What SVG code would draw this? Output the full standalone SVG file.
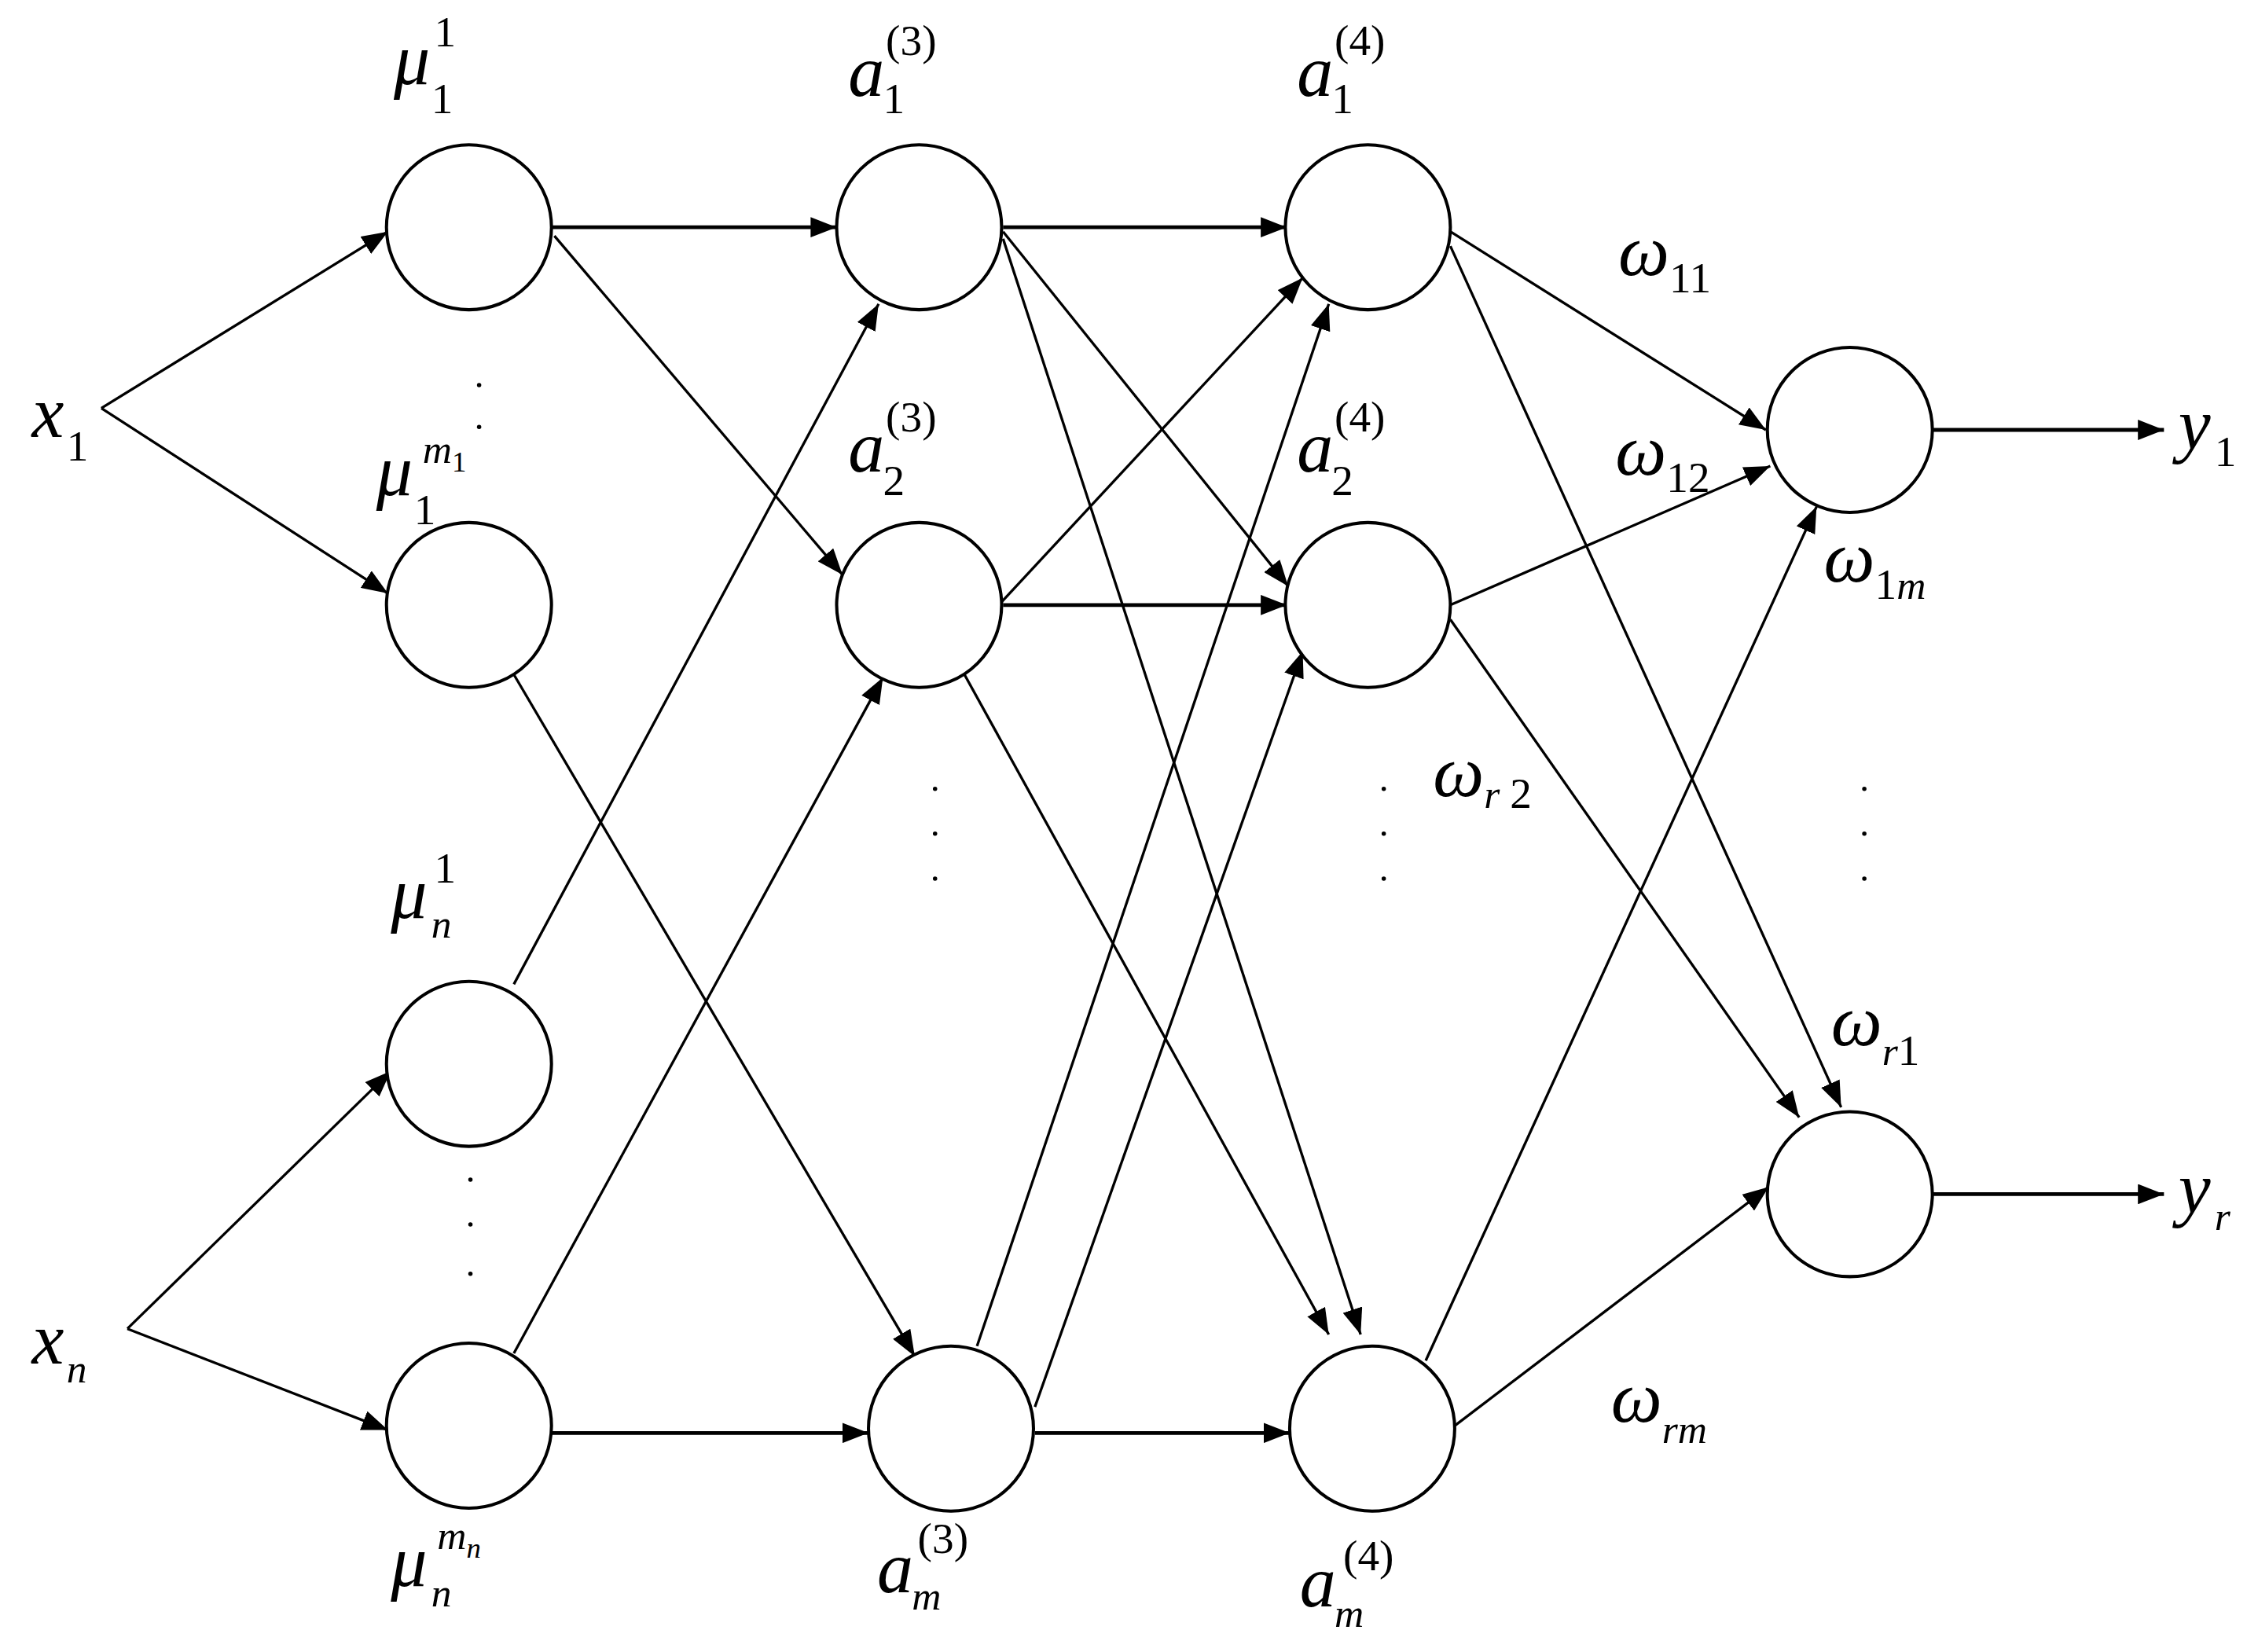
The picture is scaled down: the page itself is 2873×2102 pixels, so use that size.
<svg xmlns="http://www.w3.org/2000/svg" width="2873" height="2102" viewBox="0 0 2873 2102">
<style>
.n{fill:#fff;stroke:#000;stroke-width:2.2}
.e line{stroke:#000;stroke-width:1.8;marker-end:url(#ah)}
.e line.t{stroke-width:2.6}
.b{font-family:"Liberation Serif",serif;font-style:italic;font-size:50px}
.s{font-family:"Liberation Serif",serif;font-size:30px}
.si{font-family:"Liberation Serif",serif;font-style:italic;font-size:28px}
.up{font-style:normal}
.d{fill:#000}
</style>
<defs>
<marker id="ah" markerUnits="userSpaceOnUse" markerWidth="20" markerHeight="14" refX="18" refY="7" orient="auto"><path d="M0,0 L18,7 L0,14 z" fill="#000"/></marker>
</defs>
<rect width="2873" height="2102" fill="#fff"/>
<g transform="scale(1.8417)">
<g id="connectors" class="e">
<line x1="70" y1="282" x2="268" y2="160"/>
<line x1="70" y1="282" x2="268" y2="410"/>
<line x1="88" y1="918" x2="270" y2="740"/>
<line x1="88" y1="918" x2="268" y2="988"/>
<line class="t" x1="381" y1="157" x2="578" y2="157"/>
<line x1="383" y1="163" x2="582" y2="397"/>
<line x1="355" y1="466" x2="632" y2="937"/>
<line x1="355" y1="680" x2="607" y2="210"/>
<line x1="355" y1="935" x2="610" y2="468"/>
<line class="t" x1="381" y1="990" x2="600" y2="990"/>
<line class="t" x1="693" y1="157" x2="889" y2="157"/>
<line x1="693" y1="160" x2="890" y2="405"/>
<line x1="693" y1="165" x2="940" y2="922"/>
<line x1="690" y1="418" x2="900" y2="192"/>
<line class="t" x1="693" y1="418" x2="889" y2="418"/>
<line x1="663" y1="460" x2="918" y2="922"/>
<line x1="675" y1="930" x2="918" y2="210"/>
<line x1="715" y1="972" x2="900" y2="450"/>
<line class="t" x1="715" y1="990" x2="891" y2="990"/>
<line x1="1002" y1="160" x2="1220" y2="297"/>
<line x1="1002" y1="170" x2="1272" y2="765"/>
<line x1="1002" y1="418" x2="1223" y2="322"/>
<line x1="1002" y1="428" x2="1243" y2="772"/>
<line x1="985" y1="940" x2="1255" y2="350"/>
<line x1="1005" y1="985" x2="1222" y2="820"/>
<line class="t" x1="1335" y1="297" x2="1495" y2="297"/>
<line class="t" x1="1335" y1="825" x2="1495" y2="825"/>
</g>
<g id="x1"><text class="b" x="22" y="302">x</text><text class="s" x="46" y="318">1</text></g>
<g id="xn"><text class="b" x="22" y="942">x</text><text class="si" x="46" y="955">n</text></g>
<g id="mu11"><circle class="n" cx="324" cy="157" r="57"/><text class="b" x="272" y="58">μ</text><text class="s" x="298" y="78">1</text><text class="s" x="300" y="32">1</text></g>
<g id="mu1m"><circle class="n" cx="324" cy="418" r="57"/><text class="b" x="260" y="342">μ</text><text class="s" x="286" y="362">1</text><text class="si" x="292" y="320">m<tspan class="up" font-size="20" dy="6">1</tspan></text></g>
<g id="mun1"><circle class="n" cx="324" cy="735" r="57"/><text class="b" x="270" y="634">μ</text><text class="si" x="298" y="648">n</text><text class="s" x="300" y="610">1</text></g>
<g id="munm"><circle class="n" cx="324" cy="985" r="57"/><text class="b" x="270" y="1096">μ</text><text class="si" x="298" y="1110">n</text><text class="si" x="302" y="1070">m<tspan font-size="20" dy="6">n</tspan></text></g>
<g id="a31"><circle class="n" cx="635" cy="157" r="57"/><text class="b" x="586" y="66">a</text><text class="s" x="610" y="78">1</text><text class="s" x="612" y="38">(3)</text></g>
<g id="a32"><circle class="n" cx="635" cy="418" r="57"/><text class="b" x="586" y="326">a</text><text class="s" x="610" y="342">2</text><text class="s" x="612" y="298">(3)</text></g>
<g id="a3m"><circle class="n" cx="657" cy="987" r="57"/><text class="b" x="606" y="1100">a</text><text class="si" x="630" y="1112">m</text><text class="s" x="634" y="1073">(3)</text></g>
<g id="a41"><circle class="n" cx="945" cy="157" r="57"/><text class="b" x="896" y="66">a</text><text class="s" x="920" y="78">1</text><text class="s" x="922" y="38">(4)</text></g>
<g id="a42"><circle class="n" cx="945" cy="418" r="57"/><text class="b" x="896" y="326">a</text><text class="s" x="920" y="342">2</text><text class="s" x="922" y="298">(4)</text></g>
<g id="a4m"><circle class="n" cx="948" cy="987" r="57"/><text class="b" x="898" y="1110">a</text><text class="si" x="922" y="1124">m</text><text class="s" x="928" y="1085">(4)</text></g>
<g id="out1"><circle class="n" cx="1278" cy="297" r="57"/><text class="b" x="1505" y="310">y</text><text class="s" x="1530" y="322">1</text></g>
<g id="outr"><circle class="n" cx="1278" cy="825" r="57"/><text class="b" x="1505" y="838">y</text><text class="si" x="1530" y="850">r</text></g>
<g id="weights">
<text class="b" x="1118" y="190">ω<tspan class="s" font-style="normal" dy="12">11</tspan></text>
<text class="b" x="1116" y="328">ω<tspan class="s" font-style="normal" dy="12">12</tspan></text>
<text class="b" x="1260" y="402">ω<tspan class="s" font-style="normal" dy="12">1</tspan><tspan class="si">m</tspan></text>
<text class="b" x="990" y="550">ω<tspan class="si" dy="8">r </tspan><tspan class="s" font-style="normal">2</tspan></text>
<text class="b" x="1265" y="722">ω<tspan class="si" dy="14">r</tspan><tspan class="s" font-style="normal">1</tspan></text>
<text class="b" x="1113" y="982">ω<tspan class="si" dy="15">rm</tspan></text>
</g>
<g id="dots" class="d">
<circle cx="331" cy="266" r="1.5"/><circle cx="331" cy="295" r="1.5"/>
<circle cx="325" cy="815" r="1.5"/><circle cx="325" cy="846" r="1.5"/><circle cx="325" cy="880" r="1.5"/>
<circle cx="646" cy="545" r="1.5"/><circle cx="646" cy="576" r="1.5"/><circle cx="646" cy="607" r="1.5"/>
<circle cx="956" cy="545" r="1.5"/><circle cx="956" cy="576" r="1.5"/><circle cx="956" cy="607" r="1.5"/>
<circle cx="1288" cy="545" r="1.5"/><circle cx="1288" cy="576" r="1.5"/><circle cx="1288" cy="607" r="1.5"/>
</g>
</g>
</svg>
